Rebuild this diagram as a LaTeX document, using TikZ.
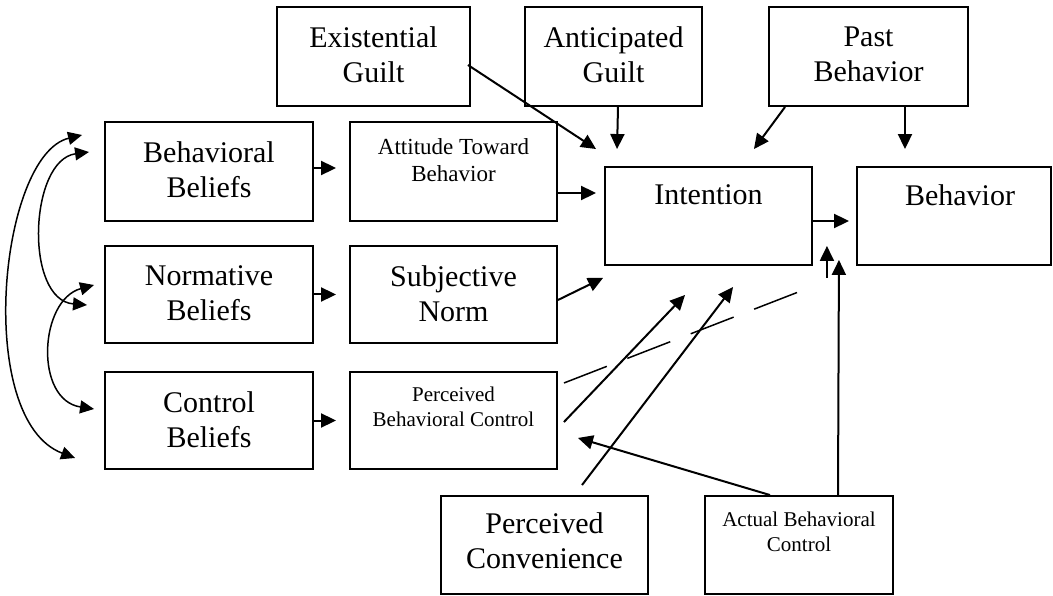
\documentclass[tikz,border=0pt]{standalone}
\usepackage{fontspec}
\setmainfont{Liberation Serif}
\usetikzlibrary{arrows.meta,calc}
\begin{document}
\begin{tikzpicture}[x=1pt,y=-1pt,
  box/.style={draw, line width=1.9pt, inner sep=0pt},
  big/.style={font=\fontsize{30}{35}\selectfont, align=center, inner sep=0pt, anchor=north},
  mid/.style={font=\fontsize{23}{27}\selectfont, align=center, inner sep=0pt, anchor=north},
  small/.style={font=\fontsize{21}{25}\selectfont, align=center, inner sep=0pt, anchor=north},
  arr/.style={line width=2pt, -{Triangle[length=15pt,width=14pt]}},
  darr/.style={line width=1.5pt, {Triangle[length=14pt,width=13pt]}-{Triangle[length=14pt,width=13pt]}},
  dline/.style={line width=1.5pt, dash pattern=on 46pt off 22pt}
]
\useasboundingbox (0,0) rectangle (1053,596);

% boxes
\node[box, minimum width=193pt, minimum height=99pt] (eg) at (373.5,56.5) {};
\node[box, minimum width=177pt, minimum height=99pt] (ag) at (613.5,56.5) {};
\node[box, minimum width=199pt, minimum height=99pt] (pb) at (868.5,56.5) {};
\node[box, minimum width=208pt, minimum height=99pt] (bb) at (209,171.5) {};
\node[box, minimum width=207pt, minimum height=99pt] (atb) at (453.5,171.5) {};
\node[box, minimum width=207pt, minimum height=98pt] (int) at (708.5,216) {};
\node[box, minimum width=194pt, minimum height=98pt] (beh) at (954,216) {};
\node[box, minimum width=208pt, minimum height=97pt] (nb) at (209,294.5) {};
\node[box, minimum width=207pt, minimum height=97pt] (sn) at (453.5,294.5) {};
\node[box, minimum width=208pt, minimum height=97pt] (cb) at (209,420.5) {};
\node[box, minimum width=207pt, minimum height=97pt] (pbc) at (453.5,420.5) {};
\node[box, minimum width=207pt, minimum height=98pt] (pc) at (544.5,545) {};
\node[box, minimum width=188pt, minimum height=98pt] (abc) at (799,545) {};

% texts
\node[big] (teg) at ($(eg.north)+(0,20.5)$) {Existential\\Guilt};
\node[big] (tag) at ($(ag.north)+(0,20.5)$) {Anticipated\\Guilt};
\node[big] (tpb) at ($(pb.north)+(0,20.5)$) {Past\\Behavior};
\node[big] (tbb) at ($(bb.north)+(0,20.5)$) {Behavioral\\Beliefs};
\node[mid] (tatb) at ($(atb.north)+(0,17.3)$) {Attitude Toward\\Behavior};
\node[big] (tint) at ($(int.north)+(0,18.5)$) {Intention};
\node[big] (tbeh) at ($(beh.north)+(6,18.5)$) {Behavior};
\node[big] (tnb) at ($(nb.north)+(0,20.5)$) {Normative\\Beliefs};
\node[big] (tsn) at ($(sn.north)+(0,20.5)$) {Subjective\\Norm};
\node[big] (tcb) at ($(cb.north)+(0,20.5)$) {Control\\Beliefs};
\node[small] (tpbc) at ($(pbc.north)+(0,15.7)$) {Perceived\\Behavioral Control};
\node[big] (tpc) at ($(pc.north)+(0,17.5)$) {Perceived\\Convenience};
\node[small] (tabc) at ($(abc.north)+(0,16.7)$) {Actual Behavioral\\Control};

% straight connectors
\draw[arr] ($(eg.east)+(-3,8.5)$) -- ($(int.north west)+(-8,-17)$);
\draw[arr] ($(ag.south)+(4.5,0)$) -- ($(int.north west)+(13,-17)$);
\draw[arr] ($(pb.south west)+(17,0)$) -- ($(int.north east)+(-59,-17)$);
\draw[arr] ($(pb.south)+(36.5,0)$) -- ($(beh.north)+(-49,-17)$);
\draw[arr] ($(bb.east)+(0,-3.5)$) -- ($(atb.west)+(-13,-3.5)$);
\draw[arr] (nb.east) -- ($(sn.west)+(-13,0)$);
\draw[arr] (cb.east) -- ($(pbc.west)+(-13,0)$);
\draw[arr] ($(atb.east)+(0,21.5)$) -- ($(int.west)+(-8,-23)$);
\draw[arr] ($(sn.east)+(0,5.5)$) -- ($(int.south west)+(-1,12)$);
\draw[arr] ($(pbc.east)+(6,1.5)$) -- ($(int.south west)+(81,29)$);
\draw[arr] ($(pc.north)+(37.5,-10)$) -- ($(int.south west)+(129,21)$);
\draw[arr] ($(abc.north)+(-29,0)$) -- ($(pbc.south east)+(20,-32)$);
\draw[arr] ($(abc.north)+(39,0)$) -- ($(int.south east)+(26,-6)$);
\draw[arr] ($(int.east)+(0,5)$) -- ($(beh.west)+(-7,5)$);
\coordinate (ua1) at ($(int.south east)+(14,12)$);
\coordinate (ua2) at ($(int.south east)+(14,-20)$);
\draw[arr] (ua1) -- (ua2);
\draw[dline] ($(pbc.east)+(6,-37.5)$) -- ($(int.south east)+(1,20)$);

% curved connectors on the left
\draw[darr] ($(bb.west)+(-22,-36.5)$) .. controls +(-83,20) and +(-101,-38) .. ($(cb.west)+(-29,37.5)$);
\draw[darr] ($(bb.west)+(-15,-19.5)$) .. controls +(-60,8) and +(-63,-5) .. ($(nb.west)+(-17,10.5)$);
\draw[darr] ($(nb.west)+(-10,-9.5)$) .. controls +(-55,15) and +(-60,-9) .. ($(cb.west)+(-10,-11.5)$);
\end{tikzpicture}
\end{document}
